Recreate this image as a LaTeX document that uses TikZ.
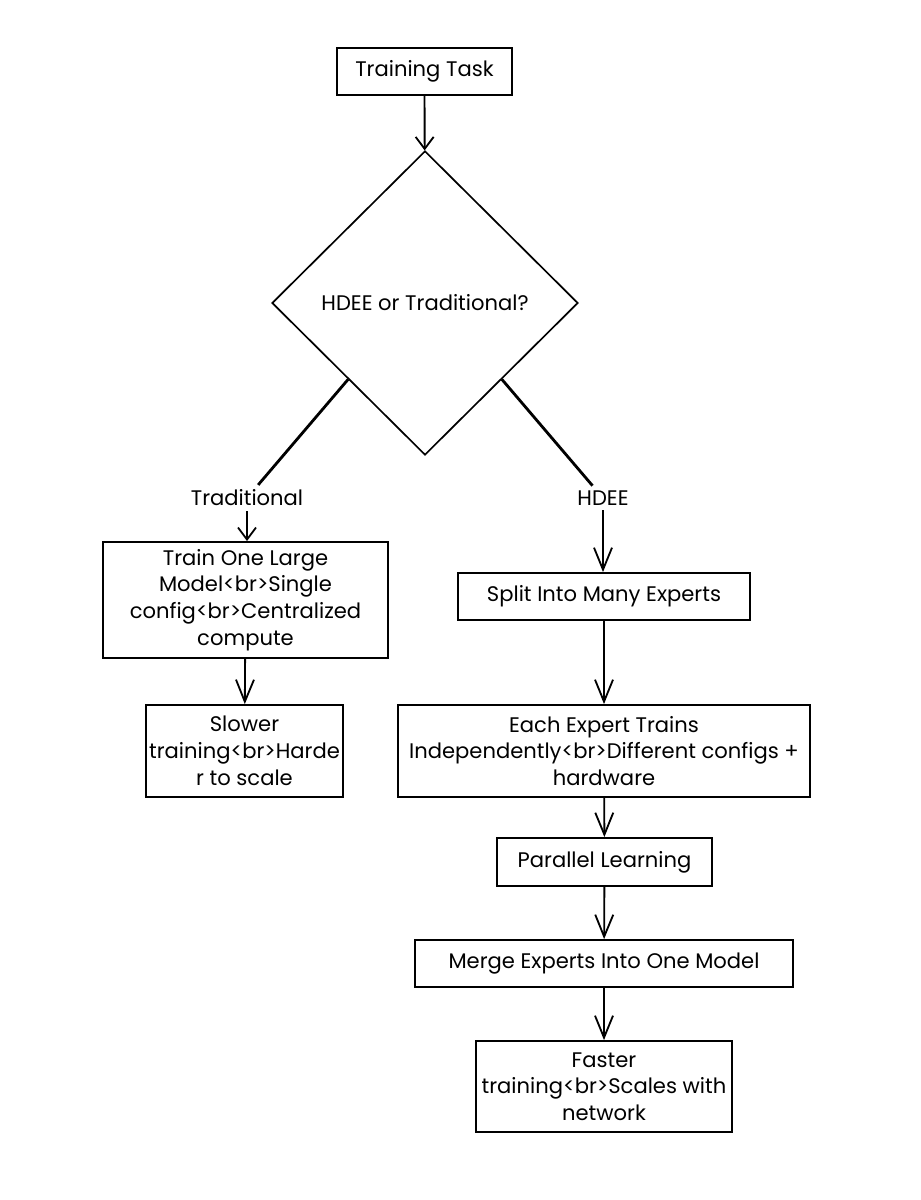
\documentclass[tikz,border=0pt]{standalone}
\usepackage{fontspec}
\setmainfont{Poppins}
\usepackage{tikz}
\usetikzlibrary{shapes.geometric,arrows.meta}
\tikzset{box/.style={draw,line width=1.3pt,align=center,inner sep=0pt}}
\tikzset{flow/.style={line width=1.3pt,-{Straight Barb[length=#1,width=4.5mm,line width=1.3pt]}},flow/.default=5.5mm}

\begin{document}
\begin{tikzpicture}[x=0.025cm,y=-0.025cm,every node/.style={font=\fontsize{15}{19}\selectfont}]
	\fill[white] (0,0) rectangle (920,1200);
	\node[box,minimum width=4.375cm,minimum height=1.175cm] (task) at (424.5,71.5) {Training Task};
	\node[diamond,draw,line width=1.2pt,aspect=1,inner sep=0pt,minimum width=7.65cm,minimum height=7.6cm] (dec) at (425,303) {HDEE or Traditional?};
	\node (trad) at (247,498) {Traditional};
	\node (hdee) at (603,498) {HDEE};
	
	% left branch
	\node[box,minimum width=7.125cm,minimum height=2.9cm] (big) at (245.5,600)
		{Train One Large\\Model<br>Single\\config<br>Centralized\\compute};
	\node[box,minimum width=4.925cm,minimum height=2.3cm] (slow) at (244.5,751)
		{Slower\\training<br>Harde\\r to scale};
	
	% right branch
	\node[box,minimum width=7.3cm,minimum height=1.175cm] (split) at (604,596.5) {Split Into Many Experts};
	\node[box,minimum width=10.3cm,minimum height=2.3cm] (each) at (604,751)
		{Each Expert Trains\\Independently<br>Different configs +\\hardware};
	\node[box,minimum width=5.375cm,minimum height=1.2cm] (par) at (604.5,862) {Parallel Learning};
	\node[box,minimum width=9.45cm,minimum height=1.175cm] (merge) at (604,963.5) {Merge Experts Into One Model};
	\node[box,minimum width=6.4cm,minimum height=2.275cm] (fast) at (604,1086.5)
		{Faster\\training<br>Scales with\\network};
	
	\draw[flow=3mm] (task) -- (dec);
	\draw[line width=2pt] (dec.south west) -- (trad);
	\draw[line width=2pt] (dec.south east) -- (hdee);
	\draw[flow=3mm] (trad.south) -- (trad.south |- big.north);
	\draw[flow] (hdee.south) -- (hdee.south |- split.north);
	\draw[flow] (big) -- (slow);
	\draw[flow] (split) -- (each);
	\draw[flow] (each) -- (par);
	\draw[flow] (par) -- (merge);
	\draw[flow] (merge) -- (fast);
\end{tikzpicture}
\end{document}
